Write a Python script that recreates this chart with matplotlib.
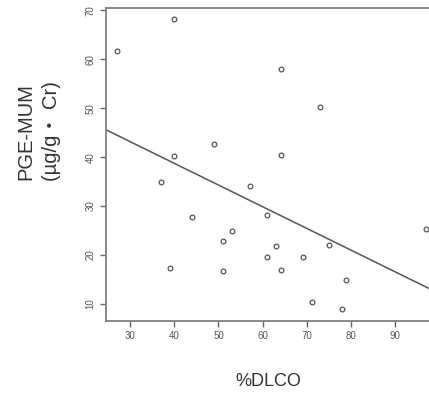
import numpy as np
import matplotlib
matplotlib.use('Agg')
import matplotlib.pyplot as plt

# %DLCO vs PGE-MUM
dlco = [27.0, 39.9, 49.0, 39.9, 37.0, 64.1, 73.1, 64.2, 57.1, 44.0, 39.1,
        61.0, 53.1, 51.0, 63.0, 61.0, 69.1, 75.1, 51.0, 64.1, 79.0, 71.1,
        78.1, 97.0]
pge = [61.8, 68.3, 42.7, 40.2, 35.0, 58.0, 50.2, 40.4, 34.2, 27.7, 17.4,
       28.2, 25.0, 22.9, 21.9, 19.6, 19.6, 22.1, 16.8, 17.0, 14.9, 10.3,
       8.9, 25.4]
# regression line y = a + b*x
line_a = 56.45
line_b = -0.443

xticks = [30, 40, 50, 60, 70, 80, 90]
yticks = [10, 20, 30, 40, 50, 60, 70]

plt.rcParams['font.family'] = ['Liberation Sans', 'Noto Sans CJK JP', 'DejaVu Sans']

fig = plt.figure(figsize=(4.29, 3.95), dpi=100)
ax = fig.add_axes([106/429, 1-321/395, (439-106)/429, (321-8)/395])

ax.plot(dlco, pge, 'o', mfc='none', mec='#555555', ms=3.4, mew=0.9)
xx = np.array([20, 110])
ax.plot(xx, line_a + line_b*xx, color='#555555', lw=1.1)

ax.set_xlim(24.5, 100)
ax.set_ylim(6.5, 70.5)
ax.set_xticks(xticks)
ax.set_yticks(yticks)
ax.tick_params(colors='#666666', labelcolor='#555555', labelsize=7,
               length=4.5, width=1, pad=3)
for lab in ax.get_yticklabels():
    lab.set_rotation(90)
    lab.set_va('center')
for s in ax.spines.values():
    s.set_color('#808080')
    s.set_linewidth(1.3)

fig.text(39/429, 0.668, 'PGE-MUM\n(µg/g・ Cr)', rotation=90, ha='center', va='center',
         fontsize=14.5, color='#333333', linespacing=1.45)
fig.text(268/429, 1-382/395, '%DLCO', ha='center', va='center',
         fontsize=13, color='#333333')

plt.savefig('out.png', dpi=100)
